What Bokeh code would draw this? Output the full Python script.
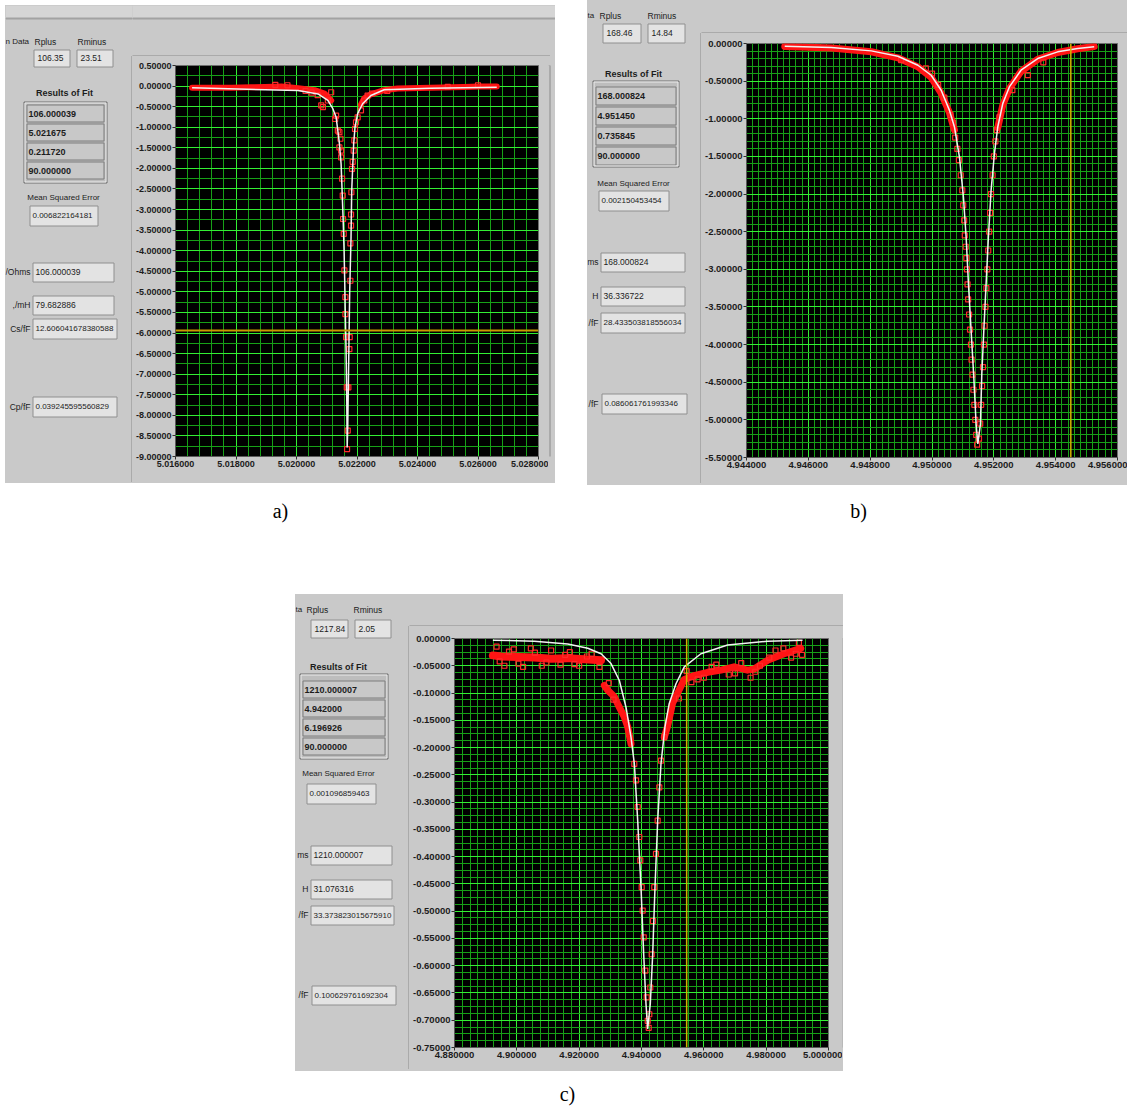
import numpy as np
from bokeh.plotting import figure
from bokeh.models import Span, FixedTicker, Spacer, Range1d, PrintfTickFormatter, ColumnDataSource
from bokeh.layouts import row, column
from bokeh.embed import file_html
from bokeh.resources import INLINE
from bokeh.core.properties import value

# ======================= DATA =======================
# ---- panel a ----
A_XTICKS = [5.016, 5.018, 5.020, 5.022, 5.024, 5.026, 5.028]
A_YTICKS = [0.5, 0.0, -0.5, -1.0, -1.5, -2.0, -2.5, -3.0, -3.5, -4.0, -4.5, -5.0,
            -5.5, -6.0, -6.5, -7.0, -7.5, -8.0, -8.5, -9.0]
A_FIT_X = [5.016548, 5.020052, 5.020709, 5.021037, 5.021202, 5.021310, 5.021366, 5.021419,
           5.021474, 5.021507, 5.021540, 5.021573, 5.021596, 5.021616, 5.021639, 5.021662,
           5.021675, 5.021694, 5.021715, 5.021759, 5.021803, 5.021825, 5.021890, 5.021934,
           5.022022, 5.022186, 5.022460, 5.022897, 5.024430, 5.026620]
A_FIT_Y = [-0.04, -0.11, -0.19, -0.35, -0.55, -0.76, -1.08, -1.40, -1.89, -2.54, -3.19,
           -4.00, -4.81, -5.62, -6.43, -7.64, -8.78, -8.30, -7.24, -4.97, -3.67, -2.54,
           -1.40, -1.00, -0.67, -0.43, -0.23, -0.09, -0.05, -0.03]
A_BAND_L_X = [5.016548, 5.017300, 5.017862, 5.018500, 5.018956, 5.019504, 5.020052,
              5.020598, 5.020926, 5.021146]
A_BAND_L_Y = [-0.04, -0.04, -0.04, -0.03, -0.02, -0.01, -0.05, -0.10, -0.18, -0.35]
A_BAND_R_X = [5.022131, 5.022240, 5.022460, 5.022897, 5.023337, 5.024430, 5.025524,
              5.026072, 5.026620]
A_BAND_R_Y = [-0.45, -0.30, -0.20, -0.10, -0.06, -0.04, -0.02, -0.01, -0.01]
A_PT_X = [5.020818, 5.020873, 5.021037, 5.021146, 5.021278, 5.021310, 5.021366, 5.021419,
          5.021452, 5.021419, 5.021474, 5.021474, 5.021507, 5.021529, 5.021540, 5.021562,
          5.021584, 5.021616, 5.021616, 5.021639, 5.021662, 5.021694, 5.021672, 5.021715,
          5.021748, 5.021759, 5.021781, 5.021781, 5.021803, 5.021803, 5.021814, 5.021836,
          5.021857, 5.021890, 5.021912, 5.021934, 5.021967, 5.022022, 5.022131, 5.022240,
          5.022351, 5.019300, 5.019700, 5.020300, 5.020500, 5.020700, 5.022500, 5.023000,
          5.025000, 5.026000]
A_PT_Y = [-0.47, -0.51, -0.35, -0.15, -0.80, -0.72, -1.08, -1.12, -1.28, -1.49, -1.57,
          -1.73, -2.25, -2.66, -3.23, -3.59, -4.48, -5.13, -5.54, -6.10, -7.32, -8.37,
          -8.82, -7.32, -6.39, -6.10, -4.73, -3.82, -3.39, -3.12, -2.58, -2.01, -1.84,
          -1.57, -1.32, -1.04, -0.88, -0.76, -0.59, -0.35, -0.23, 0.03, 0.02, -0.12,
          -0.16, -0.22, -0.18, -0.12, -0.02, 0.02]
A_CURSOR_Y = -5.94
A_HEAD = "n Data"
A_INPUTS = ["106.35", "23.51"]
A_RESULTS = ["106.000039", "5.021675", "0.211720", "90.000000"]
A_MSE = "0.006822164181"
A_DER_LABELS = ["/Ohms", ",/mH", "Cs/fF", "Cp/fF"]
A_DERIVED = ["106.000039", "79.682886", "12.606041678380588", "0.039245595560829"]

# ---- panel b ----
B_XTICKS = [4.944, 4.946, 4.948, 4.950, 4.952, 4.954, 4.956]
B_YTICKS = [0.0, -0.5, -1.0, -1.5, -2.0, -2.5, -3.0, -3.5, -4.0, -4.5, -5.0, -5.5]
B_FIT_X = [4.945237, 4.946745, 4.948037, 4.948898, 4.949544, 4.949973, 4.950296, 4.950565,
           4.950726, 4.950888, 4.951017, 4.951104, 4.951179, 4.951265, 4.951352, 4.951427,
           4.951482, 4.951566, 4.951611, 4.951676, 4.951750, 4.951824, 4.951911, 4.952019,
           4.952127, 4.952289, 4.952502, 4.952880, 4.953419, 4.954065, 4.954710, 4.955246]
B_FIT_Y = [-0.036, -0.054, -0.098, -0.169, -0.289, -0.422, -0.621, -0.888, -1.109, -1.508,
           -2.040, -2.573, -3.193, -3.814, -4.435, -5.056, -5.320, -5.056, -4.390, -3.814,
           -3.193, -2.573, -1.952, -1.464, -1.109, -0.799, -0.577, -0.355, -0.200, -0.111,
           -0.067, -0.044]
B_BAND_L_X = [4.945237, 4.946745, 4.948037, 4.948898, 4.949544, 4.949973, 4.950296,
              4.950565, 4.950726]
B_BAND_L_Y = [-0.04, -0.06, -0.11, -0.19, -0.31, -0.45, -0.66, -0.92, -1.15]
B_BAND_R_X = [4.952127, 4.952289, 4.952502, 4.952880, 4.953419, 4.954065, 4.954710, 4.955246]
B_BAND_R_Y = [-1.12, -0.82, -0.60, -0.37, -0.21, -0.12, -0.07, -0.04]
B_PT_X = [4.950600, 4.950680, 4.950750, 4.950820, 4.950870, 4.950930, 4.950980, 4.951010,
          4.951040, 4.951060, 4.951090, 4.951110, 4.951130, 4.951150, 4.951170, 4.951200,
          4.951230, 4.951260, 4.951280, 4.951310, 4.951340, 4.951370, 4.951400, 4.951430,
          4.951460, 4.951520, 4.951560, 4.951590, 4.951620, 4.951650, 4.951680, 4.951700,
          4.951730, 4.951760, 4.951790, 4.951820, 4.951850, 4.951880, 4.951910, 4.951960,
          4.952000, 4.952050, 4.952100, 4.952180, 4.949800, 4.950000, 4.950200, 4.950400,
          4.949000, 4.952600, 4.953100, 4.953600]
B_PT_Y = [-0.95, -1.05, -1.25, -1.40, -1.55, -1.75, -1.95, -2.15, -2.35, -2.55, -2.70,
          -2.85, -3.00, -3.20, -3.40, -3.60, -3.80, -4.00, -4.20, -4.40, -4.60, -4.80,
          -5.00, -5.20, -5.33, -5.25, -5.05, -4.80, -4.55, -4.30, -4.00, -3.75, -3.50,
          -3.25, -3.00, -2.75, -2.50, -2.25, -2.00, -1.75, -1.50, -1.30, -1.15, -0.98,
          -0.33, -0.40, -0.55, -0.72, -0.22, -0.62, -0.42, -0.25]
B_CURSOR_X = 4.95449
B_HEAD = "ta"
B_INPUTS = ["168.46", "14.84"]
B_RESULTS = ["168.000824", "4.951450", "0.735845", "90.000000"]
B_MSE = "0.002150453454"
B_DER_LABELS = ["ms", "H", "/fF", "/fF"]
B_DERIVED = ["168.000824", "36.336722", "28.433503818556034", "0.086061761993346"]

# ---- panel c ----
C_XTICKS = [4.88, 4.90, 4.92, 4.94, 4.96, 4.98, 5.00]
C_YTICKS = [0.0, -0.05, -0.10, -0.15, -0.20, -0.25, -0.30, -0.35, -0.40, -0.45, -0.50,
            -0.55, -0.60, -0.65, -0.70, -0.75]
C_FIT_X = [4.89231, 4.90564, 4.91634, 4.92276, 4.92702, 4.93022, 4.93289, 4.93503, 4.93663,
           4.93771, 4.93878, 4.93984, 4.94070, 4.94144, 4.94198, 4.94282, 4.94359, 4.94433,
           4.94519, 4.94625, 4.94753, 4.94891, 4.95106, 4.95372, 4.95907, 4.96763, 4.98045,
           4.99167]
C_FIT_Y = [-0.003, -0.005, -0.010, -0.018, -0.028, -0.046, -0.077, -0.126, -0.181, -0.230,
           -0.334, -0.456, -0.579, -0.670, -0.716, -0.670, -0.579, -0.456, -0.334, -0.230,
           -0.162, -0.119, -0.083, -0.052, -0.028, -0.012, -0.005, -0.003]
C_BAND1_X = [4.89231, 4.89497, 4.90032, 4.90564, 4.91099, 4.91634, 4.92167, 4.92702]
C_BAND1_Y = [-0.031, -0.033, -0.034, -0.035, -0.037, -0.036, -0.038, -0.040]
C_BAND2_X = [4.92808, 4.92917, 4.93128, 4.93288, 4.93449, 4.93558, 4.93663]
C_BAND2_Y = [-0.086, -0.095, -0.107, -0.126, -0.144, -0.162, -0.193]
C_BAND3_X = [4.94731, 4.94840, 4.95000, 4.95160, 4.95372, 4.95692, 4.96122, 4.96548,
             4.96974, 4.97404, 4.97615, 4.98045, 4.98577, 4.99112]
C_BAND3_Y = [-0.181, -0.160, -0.118, -0.100, -0.075, -0.068, -0.062, -0.058, -0.052,
             -0.058, -0.056, -0.040, -0.028, -0.018]
C_PT_X = [4.93769, 4.93824, 4.93878, 4.93929, 4.93962, 4.94006, 4.94038, 4.94071, 4.94122,
          4.94167, 4.94199, 4.94231, 4.94250, 4.94282, 4.94327, 4.94369, 4.94410, 4.94465,
          4.94519, 4.94571, 4.94625, 4.94731, 4.8935, 4.8960, 4.8990, 4.9020, 4.9045,
          4.9080, 4.9110, 4.9140, 4.9170, 4.9200, 4.9240, 4.9265, 4.9520, 4.9560, 4.9600,
          4.9640, 4.9680, 4.9720, 4.9750, 4.9780, 4.9830, 4.9880, 4.9905, 4.9915,
          4.8945, 4.8975, 4.9005, 4.9058, 4.9095, 4.9155, 4.9185, 4.9225, 4.9295, 4.9310,
          4.9545, 4.9580, 4.9625, 4.9700, 4.9765, 4.9810, 4.9855, 4.9895]
C_PT_Y = [-0.230, -0.260, -0.309, -0.364, -0.407, -0.456, -0.499, -0.548, -0.609, -0.658,
          -0.701, -0.714, -0.689, -0.640, -0.579, -0.518, -0.456, -0.395, -0.334, -0.273,
          -0.224, -0.181, -0.015, -0.050, -0.020, -0.052, -0.018, -0.050, -0.022, -0.048,
          -0.025, -0.050, -0.028, -0.052, -0.110, -0.080, -0.072, -0.048, -0.066, -0.045,
          -0.072, -0.050, -0.022, -0.035, -0.008, -0.030,
          -0.042, -0.024, -0.046, -0.026, -0.044, -0.030, -0.047, -0.033, -0.082, -0.112,
          -0.060, -0.075, -0.052, -0.064, -0.061, -0.035, -0.018, -0.028]
C_CURSOR_X = 4.95449
C_HEAD = "ta"
C_INPUTS = ["1217.84", "2.05"]
C_RESULTS = ["1210.000007", "4.942000", "6.196926", "90.000000"]
C_MSE = "0.001096859463"
C_DER_LABELS = ["ms", "H", "/fF", "/fF"]
C_DERIVED = ["1210.000007", "31.076316", "33.373823015675910", "0.100629761692304"]

CAPTIONS = ["a)", "b)", "c)"]
COMMON = dict(rplus="Rplus", rminus="Rminus", rof="Results of Fit", mse="Mean Squared Error")

# ======================= LAYOUT / STYLE =======================
PANEL_GRAY = "#c9c9c9"
FIELD_FILL = "#e3e3e3"
FIELD_LINE = "#8f8f8f"
RED = "#ff1414"
TXT = "#1c1c1c"
FONT = "Liberation Sans"
BG = {"background-color": PANEL_GRAY}

# all geometry below is in the reference picture's pixel coordinates
SPEC_A = dict(origin=(5, 5), size=(550, 478), plot=(132, 56, 548, 480), frame=(173, 65, 538, 456),
              head=(5, 41), rplus=(34, 41), rminus=(77, 41),
              in_boxes=[(33, 49, 69, 66), (76, 49, 112, 66)],
              rof=(64, 92), cluster=(23, 101, 106, 182),
              rows=[(26, 104, 103, 121), (26, 123, 103, 140), (26, 142, 103, 159), (26, 161, 103, 178)],
              mse_label=(63, 197), mse_box=(29, 205, 97, 225),
              der_boxes=[(32, 262, 113, 281), (32, 295, 113, 314), (32, 318, 116, 338), (32, 396, 116, 416)],
              der_label_x=30, plotbox=(131, 55, 549, 481), topstrip=True,
              xminor=0.0004, yminor=0.25, tick_size="9px")
SPEC_B = dict(origin=(587, 0), size=(540, 485), plot=(701, 33, 1127, 481), frame=(745, 43, 1117, 457),
              head=(587, 15), rplus=(599, 15), rminus=(647, 15),
              in_boxes=[(602, 23, 640, 42), (647, 23, 684, 42)],
              rof=(633, 73), cluster=(592, 80, 678, 166),
              rows=[(595, 86, 675, 104), (595, 106, 675, 124), (595, 126, 675, 144), (595, 146, 675, 164)],
              mse_label=(633, 183), mse_box=(598, 190, 668, 210),
              der_boxes=[(600, 252, 684, 271), (600, 286, 684, 305), (600, 312, 684, 332), (601, 393, 686, 413)],
              der_label_x=598, plotbox=(700, 32, 1135, 482), topstrip=False,
              xminor=0.0002, yminor=0.1, tick_size="9.5px")
SPEC_C = dict(origin=(295, 594), size=(548, 477), plot=(409, 626, 842, 1067), frame=(453, 638, 828, 1047),
              head=(295, 609), rplus=(306, 609), rminus=(353, 609),
              in_boxes=[(310, 619, 347, 637), (354, 619, 390, 637)],
              rof=(338, 666), cluster=(299, 673, 387, 758),
              rows=[(302, 680, 384, 697), (302, 699, 384, 716), (302, 718, 384, 735), (302, 737, 384, 754)],
              mse_label=(338, 773), mse_box=(306, 783, 375, 803),
              der_boxes=[(310, 845, 391, 864), (310, 879, 391, 898), (310, 905, 393, 924), (311, 985, 395, 1004)],
              der_label_x=308, plotbox=(408, 625, 842, 1068), topstrip=False,
              xminor=0.0025, yminor=0.0125, tick_size="9.5px")


def panel_prims(spec, head, inputs, results, mse, der_labels, derived):
    filled, opened, texts = [], [], []
    ox, oy = spec["origin"]
    W, H = spec["size"]
    if spec["topstrip"]:
        filled.append((ox, oy, ox + W, oy + 12, "#d5d5d5", "#d5d5d5"))
        filled.append((ox, oy + 12, ox + W, oy + 13, "#a2a2a2", "#a2a2a2"))
    pb = spec["plotbox"]
    opened.append((pb[0], pb[1], pb[2], pb[3], "#8a8a8a"))
    texts.append((spec["head"][0], spec["head"][1], head, "8px", "normal", "left"))
    texts.append((spec["rplus"][0], spec["rplus"][1], COMMON["rplus"], "8.5px", "normal", "left"))
    texts.append((spec["rminus"][0], spec["rminus"][1], COMMON["rminus"], "8.5px", "normal", "left"))
    for b, t in zip(spec["in_boxes"], inputs):
        filled.append(b + (FIELD_FILL, FIELD_LINE))
        texts.append((b[0] + 4, (b[1] + b[3]) / 2, t, "8.5px", "normal", "left"))
    texts.append((spec["rof"][0], spec["rof"][1], COMMON["rof"], "9px", "bold", "center"))
    c = spec["cluster"]
    filled.append(c + ("#bdbdbd", "#6f6f6f"))
    opened.append((c[0] + 1, c[1] + 1, c[2] - 1, c[3] - 1, "#ececec"))
    for b, t in zip(spec["rows"], results):
        filled.append(b + ("#c8c8c8", "#7c7c7c"))
        texts.append((b[0] + 2, (b[1] + b[3]) / 2 + 0.5, t, "9px", "bold", "left"))
    texts.append((spec["mse_label"][0], spec["mse_label"][1], COMMON["mse"], "8px", "normal", "center"))
    mb = spec["mse_box"]
    filled.append(mb + (FIELD_FILL, FIELD_LINE))
    texts.append((mb[0] + 3, (mb[1] + mb[3]) / 2, mse, "8px", "normal", "left"))
    for b, lab, t in zip(spec["der_boxes"], der_labels, derived):
        filled.append(b + (FIELD_FILL, FIELD_LINE))
        size = "8px" if len(t) > 12 else "8.5px"
        texts.append((b[0] + 3, (b[1] + b[3]) / 2, t, size, "normal", "left"))
        texts.append((spec["der_label_x"], (b[1] + b[3]) / 2, lab, "8.5px", "normal", "right"))
    return filled, opened, texts


def pix_fig(region, prims):
    x0, y0, x1, y1 = region
    f = figure(width=x1 - x0, height=y1 - y0, x_range=Range1d(x0, x1), y_range=Range1d(y1, y0),
               output_backend="svg", toolbar_location=None, x_axis_type=None, y_axis_type=None,
               min_border_left=0, min_border_right=0, min_border_top=0, min_border_bottom=0,
               styles=BG)
    f.outline_line_color = None
    f.background_fill_color = PANEL_GRAY
    f.border_fill_color = PANEL_GRAY
    filled, opened, texts = prims
    src = ColumnDataSource(dict(l=[q[0] + 0.5 for q in filled], r=[q[2] + 0.5 for q in filled],
                                t=[q[1] + 0.5 for q in filled], b=[q[3] + 0.5 for q in filled],
                                fc=[q[4] for q in filled], lc=[q[5] for q in filled]))
    f.quad(left="l", right="r", top="t", bottom="b", fill_color="fc", line_color="lc",
           line_width=1, source=src)
    src2 = ColumnDataSource(dict(l=[q[0] + 0.5 for q in opened], r=[q[2] + 0.5 for q in opened],
                                 t=[q[1] + 0.5 for q in opened], b=[q[3] + 0.5 for q in opened],
                                 lc=[q[4] for q in opened]))
    f.quad(left="l", right="r", top="t", bottom="b", fill_alpha=0, line_color="lc",
           line_width=1, source=src2)
    groups = {}
    for (x, y, t, size, style, align) in texts:
        if x0 <= x <= x1 and y0 <= y < y1:      # only texts that live in this piece
            groups.setdefault((size, style, align), []).append((x, y, t))
    for (size, style, align), items in groups.items():
        f.text(x=[i[0] for i in items], y=[i[1] for i in items], text=[i[2] for i in items],
               text_font=value(FONT), text_font_size=value(size), text_font_style=style,
               text_align=align, text_baseline="middle", text_color=TXT)
    return f


def plot_fig(spec, xr, yr, xticks, yticks, fit, bands, pts, cursor):
    px0, py0, px1, py1 = spec["plot"]
    fl, ft, fr, fb = spec["frame"]
    p = figure(width=px1 - px0, height=py1 - py0, x_range=Range1d(*xr), y_range=Range1d(*yr),
               output_backend="svg", toolbar_location=None,
               min_border_left=fl - px0, min_border_right=px1 - fr,
               min_border_top=ft - py0, min_border_bottom=py1 - fb, styles=BG)
    p.background_fill_color = "black"
    p.border_fill_color = PANEL_GRAY
    p.outline_line_color = "#6e6e6e"
    xminor = np.round(np.arange(xr[0], xr[1] + 1e-9, spec["xminor"]), 7).tolist()
    yminor = np.round(np.arange(yr[0], yr[1] + 1e-9, spec["yminor"]), 7).tolist()
    p.xaxis.ticker = FixedTicker(ticks=xticks, minor_ticks=xminor)
    p.yaxis.ticker = FixedTicker(ticks=yticks, minor_ticks=yminor)
    p.xgrid.ticker = FixedTicker(ticks=xticks, minor_ticks=xminor)
    p.ygrid.ticker = FixedTicker(ticks=yticks, minor_ticks=yminor)
    for g in list(p.xgrid) + list(p.ygrid):
        g.grid_line_color = "#33ee33"
        g.grid_line_alpha = 1.0
        g.grid_line_width = 1
        g.minor_grid_line_color = "#17a017"
        g.minor_grid_line_alpha = 1.0
        g.minor_grid_line_width = 1
    p.xaxis.formatter = PrintfTickFormatter(format="%.6f")
    p.yaxis.formatter = PrintfTickFormatter(format="%.5f")
    for ax in list(p.xaxis) + list(p.yaxis):
        ax.major_label_text_font = FONT
        ax.major_label_text_font_style = "bold"
        ax.major_label_text_font_size = spec["tick_size"]
        ax.major_label_text_color = TXT
        ax.axis_line_color = "#5a5a5a"
        ax.major_tick_line_color = "#303030"
        ax.major_tick_out = 3
        ax.major_tick_in = 0
        ax.minor_tick_out = 0
        ax.minor_tick_in = 0
        ax.major_label_standoff = 1
    for (bx, by, bw) in bands:
        p.line(bx, by, line_color=RED, line_width=bw, line_join="round", line_cap="round")
    p.scatter(pts[0], pts[1], marker="square", size=5, fill_color=None,
              line_color="#ff2a2a", line_width=1.2)
    p.line(fit[0], fit[1], line_color="#f2f2f2", line_width=1.5)
    if cursor[0] == "h":
        p.add_layout(Span(location=cursor[1], dimension="width", line_color="#c89a00", line_width=2))
    else:
        p.add_layout(Span(location=cursor[1], dimension="height", line_color="#d2b400", line_width=1.5))
    return p


def assemble(spec, plot, prims):
    ox, oy = spec["origin"]
    W, H = spec["size"]
    px0, py0, px1, py1 = spec["plot"]
    left = pix_fig((ox, oy, px0, oy + H), prims)
    top = pix_fig((px0, oy, ox + W, py0), prims)
    bottom = pix_fig((px0, py1, ox + W, oy + H), prims)
    mid = [plot]
    if ox + W > px1:
        mid.append(pix_fig((px1, py0, ox + W, py1), prims))
    return row(left, column(top, row(*mid, styles=BG), bottom, styles=BG), styles=BG)


pa_plot = plot_fig(SPEC_A, (5.016, 5.028), (-9.0, 0.5), A_XTICKS, A_YTICKS,
                   (A_FIT_X, A_FIT_Y),
                   [(A_BAND_L_X, A_BAND_L_Y, 6), (A_BAND_R_X, A_BAND_R_Y, 6)],
                   (A_PT_X, A_PT_Y), ("h", A_CURSOR_Y))
pb_plot = plot_fig(SPEC_B, (4.944, 4.956), (-5.5, 0.0), B_XTICKS, B_YTICKS,
                   (B_FIT_X, B_FIT_Y),
                   [(B_BAND_L_X, B_BAND_L_Y, 7), (B_BAND_R_X, B_BAND_R_Y, 7)],
                   (B_PT_X, B_PT_Y), ("v", B_CURSOR_X))
pc_plot = plot_fig(SPEC_C, (4.88, 5.00), (-0.75, 0.0), C_XTICKS, C_YTICKS,
                   (C_FIT_X, C_FIT_Y),
                   [(C_BAND1_X, C_BAND1_Y, 8), (C_BAND2_X, C_BAND2_Y, 7), (C_BAND3_X, C_BAND3_Y, 7)],
                   (C_PT_X, C_PT_Y), ("v", C_CURSOR_X))

panel_a = assemble(SPEC_A, pa_plot, panel_prims(SPEC_A, A_HEAD, A_INPUTS, A_RESULTS, A_MSE,
                                                A_DER_LABELS, A_DERIVED))
panel_b = assemble(SPEC_B, pb_plot, panel_prims(SPEC_B, B_HEAD, B_INPUTS, B_RESULTS, B_MSE,
                                                B_DER_LABELS, B_DERIVED))
panel_c = assemble(SPEC_C, pc_plot, panel_prims(SPEC_C, C_HEAD, C_INPUTS, C_RESULTS, C_MSE,
                                                C_DER_LABELS, C_DERIVED))


def caption_fig(w, h, xs, ys, texts):
    f = figure(width=w, height=h, x_range=Range1d(0, w), y_range=Range1d(h, 0),
               output_backend="svg", toolbar_location=None,
               x_axis_type=None, y_axis_type=None,
               min_border_left=0, min_border_right=0, min_border_top=0, min_border_bottom=0)
    f.outline_line_color = None
    f.background_fill_color = "white"
    f.border_fill_color = "white"
    f.text(x=xs, y=ys, text=texts, text_font=value("Liberation Serif"),
           text_font_size="20px", text_align="center", text_baseline="middle",
           text_color="black")
    return f


cap1 = caption_fig(1127, 109, [280, 858], [25, 25], CAPTIONS[:2])
cap2 = caption_fig(1127, 40, [567], [22], CAPTIONS[2:])

top_row = row(Spacer(width=5, height=10), column(Spacer(width=10, height=5), panel_a),
              Spacer(width=32, height=10), panel_b)
bottom_row = row(Spacer(width=295, height=10), panel_c)
layout = column(top_row, cap1, bottom_row, cap2)

open("out.html", "w").write(file_html(layout, INLINE, title="Resonance fits"))
